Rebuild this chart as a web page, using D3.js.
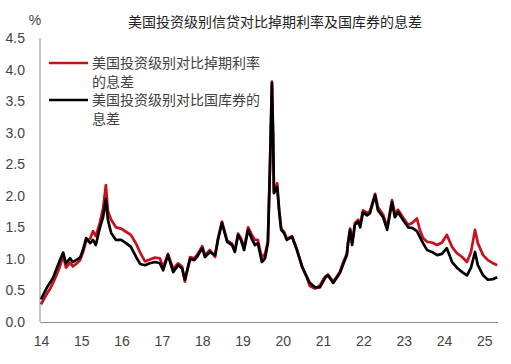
<!DOCTYPE html>
<html>
<head>
<meta charset="utf-8">
<script src="https://cdn.jsdelivr.net/npm/d3@7"></script>
<style>
  html, body { margin: 0; padding: 0; background: #fff; }
  svg { display: block; }
</style>
</head>
<body>
<svg id="chart" width="511" height="364"></svg>
<script>
const title = "美国投资级别信贷对比掉期利率及国库券的息差";
const yUnit = "%";
const seriesNames = ["美国投资级别对比掉期利率的息差", "美国投资级别对比国库券的息差"];
const legendLines = [["美国投资级别对比掉期利率", "的息差"], ["美国投资级别对比国库券的", "息差"]];
const xTickValues = [2014, 2015, 2016, 2017, 2018, 2019, 2020, 2021, 2022, 2023, 2024, 2025];
const xTickLabels = ["14", "15", "16", "17", "18", "19", "20", "21", "22", "23", "24", "25"];
const yTickValues = [0, 0.5, 1, 1.5, 2, 2.5, 3, 3.5, 4, 4.5];

const dates = [
  2014.00, 2014.07, 2014.15, 2014.22, 2014.30, 2014.37, 2014.47, 2014.55, 2014.62, 2014.72,
  2014.79, 2014.87, 2014.97, 2015.04, 2015.12, 2015.22, 2015.29, 2015.36, 2015.46, 2015.54,
  2015.61, 2015.66, 2015.74, 2015.86, 2015.99, 2016.11, 2016.23, 2016.36, 2016.46, 2016.58,
  2016.70, 2016.83, 2016.95, 2017.03, 2017.15, 2017.28, 2017.40, 2017.50, 2017.57, 2017.70,
  2017.80, 2017.87, 2018.00, 2018.07, 2018.19, 2018.32, 2018.39, 2018.49, 2018.62, 2018.74,
  2018.81, 2018.89, 2018.96, 2019.04, 2019.14, 2019.24, 2019.31, 2019.38, 2019.48, 2019.56,
  2019.63, 2019.68, 2019.73, 2019.76, 2019.78, 2019.86, 2019.91, 2019.96, 2020.03, 2020.10,
  2020.23, 2020.35, 2020.48, 2020.60, 2020.67, 2020.80, 2020.92, 2021.05, 2021.12, 2021.25,
  2021.34, 2021.42, 2021.49, 2021.59, 2021.62, 2021.67, 2021.72, 2021.79, 2021.87, 2021.92,
  2021.99, 2022.09, 2022.16, 2022.29, 2022.36, 2022.49, 2022.59, 2022.71, 2022.78, 2022.86,
  2022.98, 2023.11, 2023.21, 2023.33, 2023.40, 2023.48, 2023.58, 2023.70, 2023.83, 2023.95,
  2024.07, 2024.20, 2024.32, 2024.45, 2024.57, 2024.67, 2024.77, 2024.84, 2024.97, 2025.09,
  2025.22, 2025.32
];

const swapSpread = [
  0.28, 0.36, 0.45, 0.52, 0.62, 0.72, 0.88, 1.05, 0.86, 0.94,
  0.88, 0.92, 0.98, 1.10, 1.28, 1.32, 1.44, 1.36, 1.57, 1.80,
  2.17, 1.76, 1.62, 1.50, 1.48, 1.43, 1.38, 1.24, 1.10, 0.96,
  0.99, 1.02, 1.01, 0.87, 1.08, 0.84, 0.93, 0.88, 0.64, 1.03,
  1.01, 1.06, 1.20, 1.06, 1.14, 1.03, 1.32, 1.59, 1.29, 1.24,
  1.13, 1.40, 1.33, 1.18, 1.50, 1.37, 1.30, 1.30, 1.02, 1.08,
  1.28, 2.45, 3.81, 2.96, 2.06, 2.20, 1.78, 1.48, 1.43, 1.32,
  1.36, 1.15, 0.88, 0.70, 0.57, 0.53, 0.58, 0.72, 0.75, 0.64,
  0.72, 0.80, 0.93, 1.09, 1.27, 1.48, 1.26, 1.57, 1.62, 1.55,
  1.77, 1.73, 1.75, 2.03, 1.82, 1.70, 1.50, 1.93, 1.72, 1.78,
  1.66, 1.54, 1.57, 1.64, 1.46, 1.33, 1.27, 1.26, 1.22, 1.26,
  1.38, 1.19, 1.09, 1.03, 0.95, 1.11, 1.46, 1.25, 1.06, 0.98,
  0.93, 0.90
];

const treasurySpread = [
  0.36, 0.45, 0.55, 0.62, 0.70, 0.82, 0.98, 1.10, 0.93, 1.01,
  0.95, 0.98, 1.02, 1.14, 1.33, 1.25, 1.30, 1.22, 1.49, 1.66,
  1.95, 1.62, 1.41, 1.30, 1.30, 1.25, 1.19, 1.03, 0.92, 0.90,
  0.93, 0.95, 0.93, 0.82, 1.06, 0.79, 0.90, 0.85, 0.67, 1.00,
  0.98, 1.03, 1.17, 1.03, 1.11, 1.06, 1.30, 1.57, 1.27, 1.22,
  1.11, 1.38, 1.30, 1.14, 1.46, 1.30, 1.22, 1.25, 0.95, 1.01,
  1.25, 2.41, 3.79, 2.93, 2.04, 2.14, 1.75, 1.46, 1.41, 1.30,
  1.35, 1.14, 0.87, 0.71, 0.62, 0.55, 0.55, 0.70, 0.74, 0.62,
  0.70, 0.78, 0.90, 1.06, 1.25, 1.46, 1.22, 1.54, 1.59, 1.50,
  1.74, 1.69, 1.72, 2.01, 1.77, 1.66, 1.46, 1.90, 1.66, 1.74,
  1.62, 1.50, 1.49, 1.44, 1.35, 1.25, 1.14, 1.11, 1.06, 1.08,
  1.17, 0.95, 0.86, 0.79, 0.74, 0.86, 1.11, 0.90, 0.74, 0.67,
  0.68, 0.71
];

const colors = ["#c8101e", "#000000"];

const svg = d3.select("#chart");
const x = d3.scaleLinear().domain([2013.975, 2025.33]).range([40, 497.6]);
const y = d3.scaleLinear().domain([0, 4.5]).range([322, 38]);

// title
svg.append("text").attr("x", 275).attr("y", 27).attr("text-anchor", "middle")
  .attr("font-family", "'Noto Sans CJK SC', sans-serif").attr("font-size", 14)
  .attr("fill", "#222").text(title);
svg.append("text").attr("x", 35).attr("y", 25).attr("text-anchor", "middle")
  .attr("font-family", "'Liberation Sans', Arial, sans-serif").attr("font-size", 14)
  .attr("fill", "#444").text(yUnit);

// y axis
const yAxis = svg.append("g").attr("transform", "translate(40,0)")
  .call(d3.axisLeft(y).tickValues(yTickValues).tickFormat(d3.format(".1f")).tickSize(0).tickPadding(15));
yAxis.select(".domain").attr("stroke", "#8c8c8c").attr("d", `M0,${y(4.5)}V${y(0)}`);
yAxis.selectAll("text").attr("font-family", "'Liberation Sans', Arial, sans-serif")
  .attr("font-size", 14).attr("fill", "#444");

// x axis
const xAxis = svg.append("g").attr("transform", `translate(0,${y(0)})`)
  .call(d3.axisBottom(x).tickValues(xTickValues).tickFormat((d, i) => xTickLabels[i]).tickSize(0).tickPadding(14));
xAxis.select(".domain").attr("stroke", "#8c8c8c");
xAxis.selectAll("text").attr("font-family", "'Liberation Sans', Arial, sans-serif")
  .attr("font-size", 14).attr("fill", "#444");

// lines
const series = [swapSpread, treasurySpread];
const line = d3.line().x((d, i) => x(dates[i])).y(d => y(d));
series.forEach((vals, k) => {
  svg.append("path").datum(vals).attr("d", line)
    .attr("fill", "none").attr("stroke", colors[k]).attr("stroke-width", 2.7)
    .attr("stroke-linejoin", "round");
});

// legend
const legendY = [63, 100];
legendLines.forEach((lines, k) => {
  svg.append("line").attr("x1", 49).attr("x2", 88).attr("y1", legendY[k]).attr("y2", legendY[k])
    .attr("stroke", colors[k]).attr("stroke-width", 2.3);
  lines.forEach((t, j) => {
    svg.append("text").attr("x", 92).attr("y", legendY[k] + 5 + j * 18.5)
      .attr("font-family", "'Noto Sans CJK SC', sans-serif").attr("font-size", 14)
      .attr("fill", "#404040").text(t);
  });
});
</script>
</body>
</html>
